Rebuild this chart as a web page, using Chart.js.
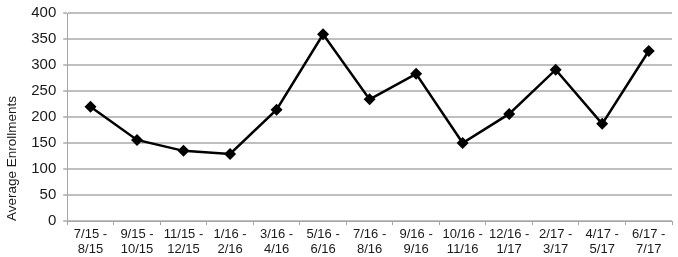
<!DOCTYPE html>
<html>
<head>
<meta charset="utf-8">
<script src="https://cdn.jsdelivr.net/npm/chart.js@4"></script>
<style>
  html, body { margin: 0; padding: 0; background: #fff; }
  #wrap { width: 678px; height: 257px; }
</style>
</head>
<body>
<div id="wrap"><canvas id="myChart"></canvas></div>
<script>
const periods = [
  ['7/15 -', '8/15'], ['9/15 -', '10/15'], ['11/15 -', '12/15'], ['1/16 -', '2/16'],
  ['3/16 -', '4/16'], ['5/16 -', '6/16'], ['7/16 -', '8/16'], ['9/16 -', '9/16'],
  ['10/16 -', '11/16'], ['12/16 -', '1/17'], ['2/17 -', '3/17'], ['4/17 -', '5/17'],
  ['6/17 -', '7/17']
];
const enrollments = [220, 156, 135, 129, 214, 359, 234, 283, 150, 206, 291, 187, 327];
const yMin = 0;
const yMax = 400;
const yStep = 50;

const ctx = document.getElementById('myChart');
const myChart = new Chart(ctx, {
  type: 'line',
  data: {
    labels: periods,
    datasets: [{
      label: 'Average Enrollments',
      data: enrollments,
      borderColor: '#000',
      borderWidth: 2.5,
      backgroundColor: '#000',
      pointStyle: 'rectRot',
      pointRadius: 6,
      pointBorderWidth: 0,
      tension: 0
    }]
  },
  options: {
    responsive: true,
    maintainAspectRatio: false,
    animation: false,
    layout: {
      padding: { top: 13, right: 6, left: 4, bottom: -2 }
    },
    plugins: {
      legend: { display: false },
      tooltip: { enabled: false }
    },
    scales: {
      x: {
        offset: true,
        grid: {
          offset: true,
          drawOnChartArea: false,
          tickLength: 4,
          color: '#a6a6a6'
        },
        border: { color: '#a6a6a6', width: 1 },
        ticks: {
          maxRotation: 0,
          autoSkip: false,
          padding: 2,
          color: '#1a1a1a',
          font: { family: 'Liberation Sans', size: 13, lineHeight: 1.15 }
        }
      },
      y: {
        min: yMin,
        max: yMax,
        // let the top label hang into the padding instead of pushing the plot down
        afterFit: (scale) => { scale.paddingTop = 0; },
        ticks: {
          stepSize: yStep,
          padding: 7,
          color: '#1a1a1a',
          font: { family: 'Liberation Sans', size: 15 }
        },
        grid: {
          color: '#bfbfbf',
          lineWidth: 2,
          tickLength: 4
        },
        border: { color: '#a6a6a6', width: 1 },
        title: {
          display: true,
          text: 'Average Enrollments',
          align: 'start',
          color: '#1a1a1a',
          padding: { top: 0, bottom: 4 },
          font: { family: 'Liberation Sans', size: 13.5 }
        }
      }
    }
  }
});
</script>
</body>
</html>
